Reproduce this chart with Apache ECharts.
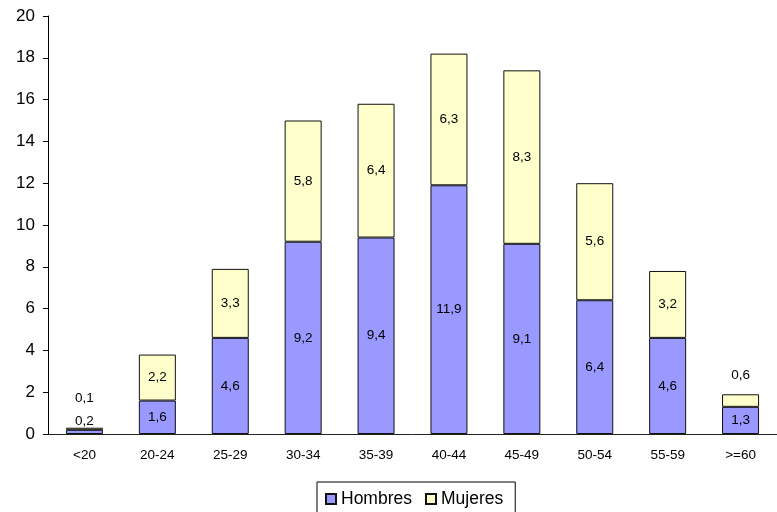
<!DOCTYPE html>
<html><head><meta charset="utf-8">
<script src="https://cdn.jsdelivr.net/npm/echarts@6/dist/echarts.min.js"></script>
<style>html,body{margin:0;padding:0;background:#fff}#c{width:777px;height:512px}</style>
</head><body><div id="c"></div>
<script>
const categories = ['<20','20-24','25-29','30-34','35-39','40-44','45-49','50-54','55-59','>=60'];
const hombres = [0.2,1.6,4.6,9.2,9.4,11.9,9.1,6.4,4.6,1.3];
const mujeres = [0.1,2.2,3.3,5.8,6.4,6.3,8.3,5.6,3.2,0.6];
const yTicks = [0,2,4,6,8,10,12,14,16,18,20];

const font = 'Liberation Sans, Arial, sans-serif';
const fmt = v => String(v).replace('.', ',');

const hData = hombres.map((v,i) => {
  const d = {value: v};
  if (i === 0) d.label = {position: 'top', distance: 2};
  return d;
});
const mData = mujeres.map((v,i) => {
  const d = {value: v};
  if (i === 0) d.label = {position: 'top', distance: 22};
  if (i === categories.length - 1) d.label = {position: 'top', distance: 12};
  return d;
});

const chart = echarts.init(document.getElementById('c'));
chart.setOption({
  animation: false,
  textStyle: {fontFamily: font},
  grid: {left: 48, top: 16, width: 739, height: 418, containLabel: false},
  xAxis: {
    type: 'category', data: categories,
    axisLine: {lineStyle: {color: '#222', width: 1}},
    axisTick: {show: false},
    axisLabel: {color: '#000', fontSize: 13.5, margin: 14, fontFamily: font}
  },
  yAxis: {
    type: 'value', min: 0, max: 20, interval: 2,
    axisLine: {show: true, lineStyle: {color: '#000'}},
    axisTick: {show: true, length: 5, lineStyle: {color: '#000'}},
    splitLine: {show: false},
    axisLabel: {color: '#000', fontSize: 17, margin: 13, fontFamily: font,
      formatter: v => yTicks.includes(v) ? String(v) : ''}
  },
  legend: {
    top: 482, left: 317,
    data: ['Hombres','Mujeres'],
    icon: 'rect', itemWidth: 10, itemHeight: 10, itemGap: 13,
    borderColor: '#000', borderWidth: 1, padding: [8, 12, 10, 8],
    textStyle: {fontSize: 17.5, color: '#000', fontFamily: font}
  },
  series: [
    {name: 'Hombres', type: 'bar', stack: 's', data: hData, barWidth: 37,
     itemStyle: {color: '#9999FF', borderColor: '#111', borderWidth: 1},
     label: {show: true, position: 'inside', color: '#000', fontSize: 13.5,
       fontFamily: font, formatter: p => fmt(p.value)}},
    {name: 'Mujeres', type: 'bar', stack: 's', data: mData, barWidth: 37,
     itemStyle: {color: '#FFFFCC', borderColor: '#111', borderWidth: 1},
     label: {show: true, position: 'inside', color: '#000', fontSize: 13.5,
       fontFamily: font, formatter: p => fmt(p.value)}}
  ]
});
</script>
</body></html>
